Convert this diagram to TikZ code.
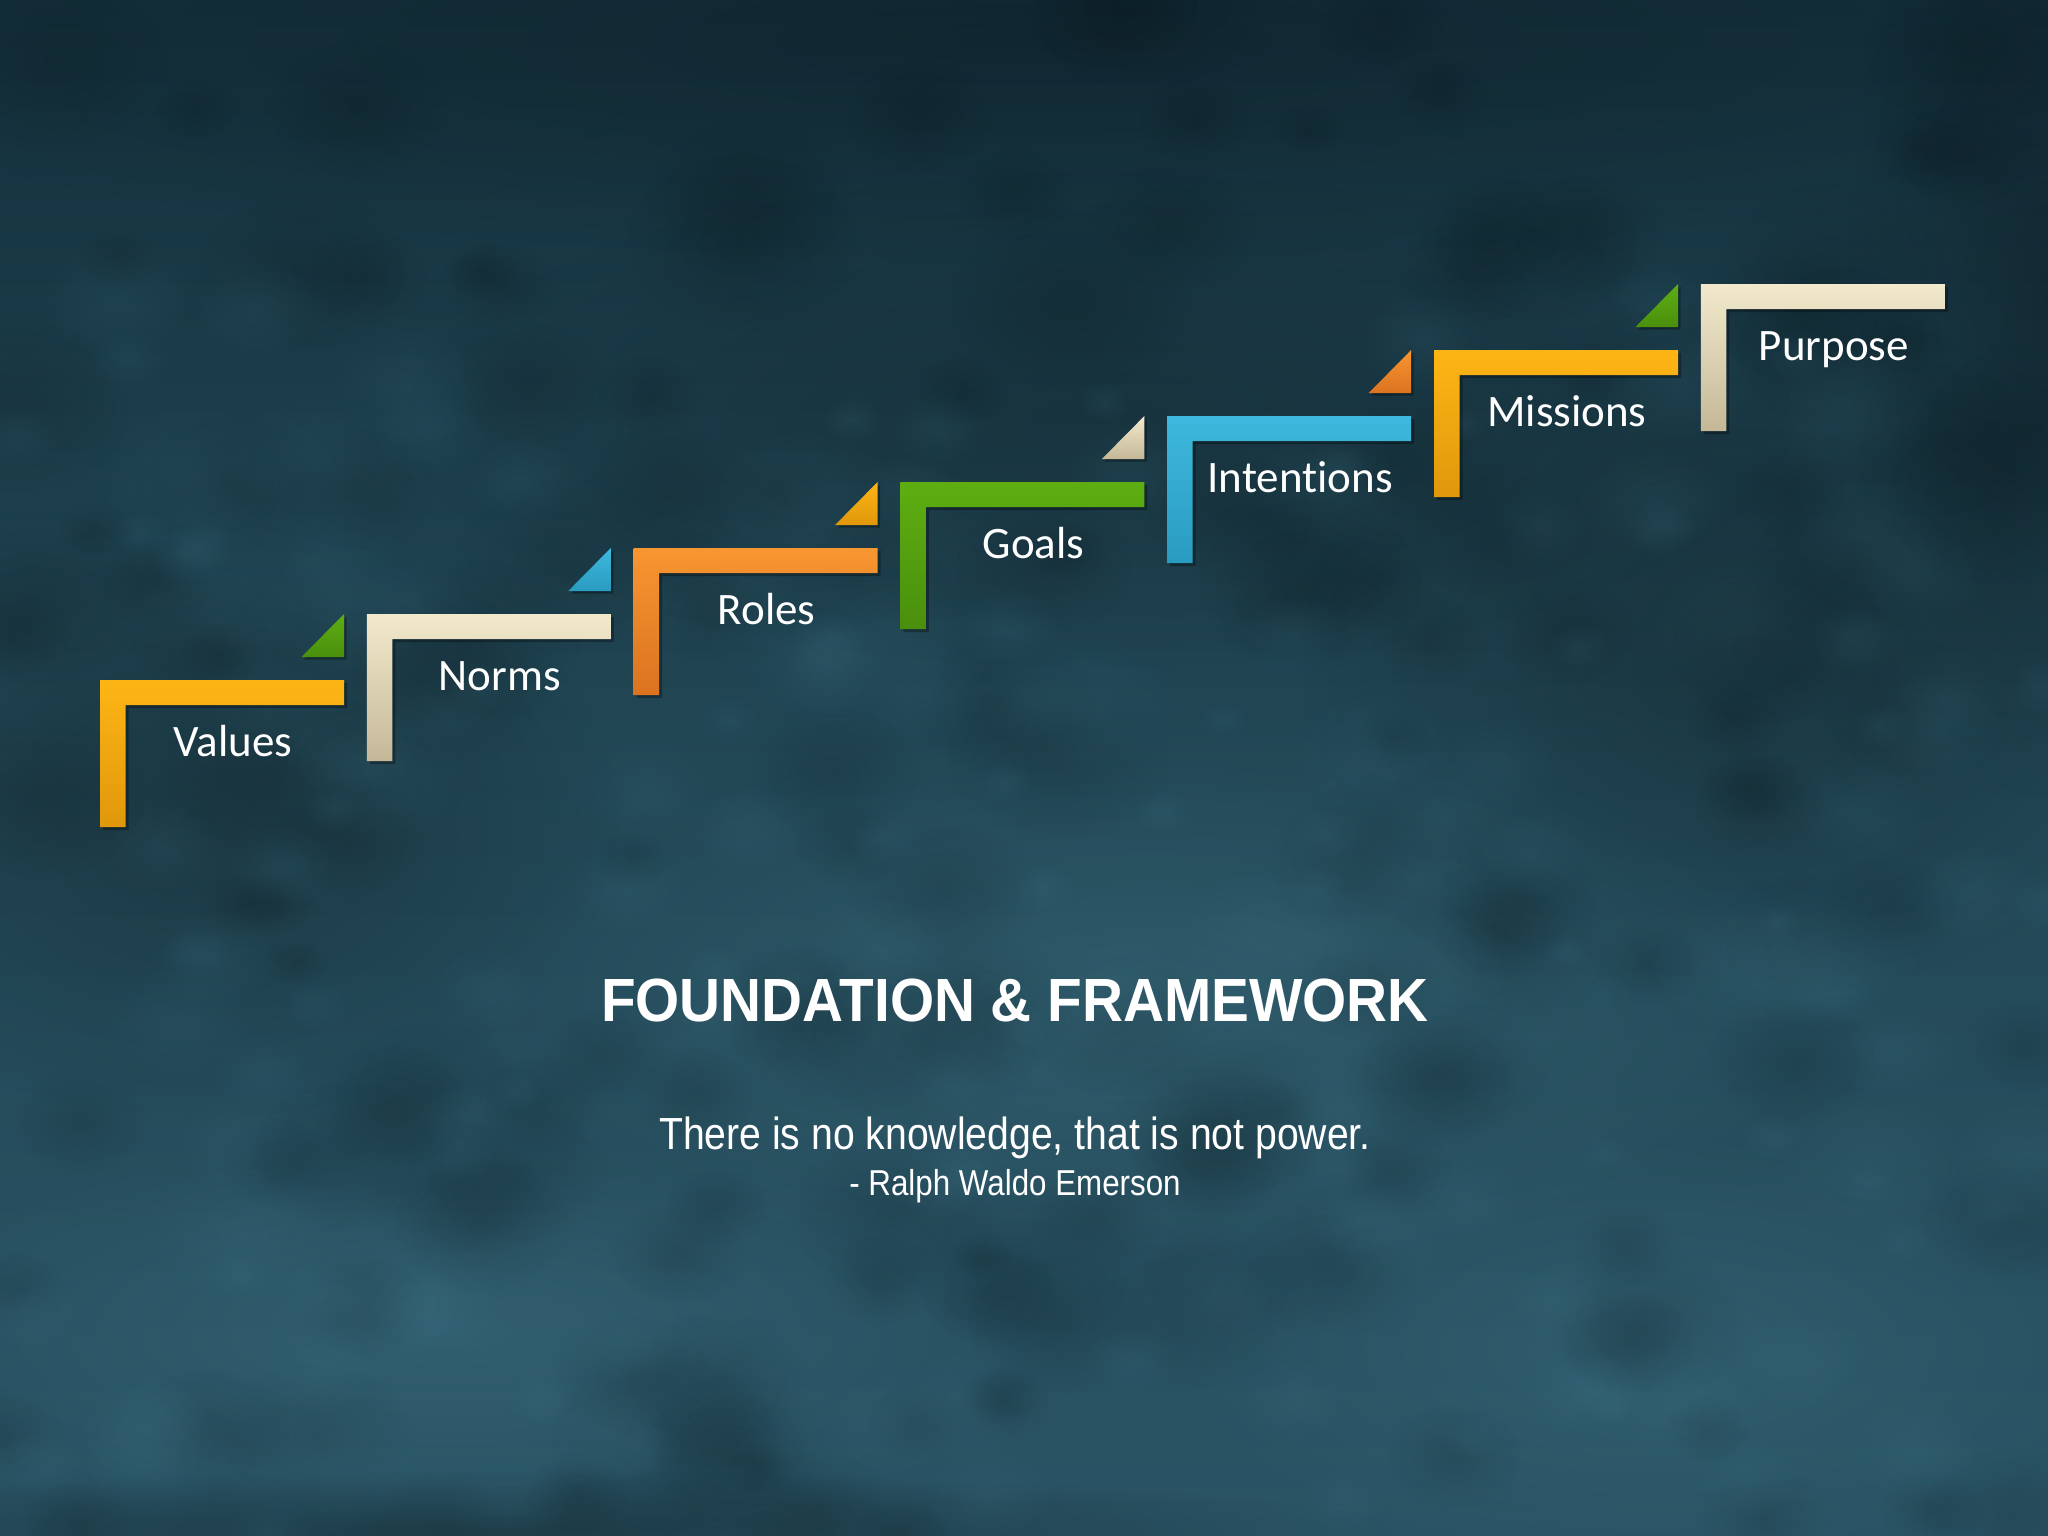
\documentclass[tikz,border=0pt]{standalone}
\usepackage{fontspec}
\setmainfont{Liberation Sans}
\newfontfamily\labelfont[Ligatures=NoCommon]{Carlito}
\newfontfamily\titlefont[FakeStretch=0.93]{Liberation Sans}
\newfontfamily\quotefont[FakeStretch=0.87]{Liberation Sans}
\usetikzlibrary{fadings}
\tikzfading[name=softblob, inner color=transparent!0, outer color=transparent!100]
\definecolor{bgtop}{HTML}{14303C}
\definecolor{bgmid}{HTML}{224755}
\definecolor{bgbot}{HTML}{2A5465}
\definecolor{bglight}{RGB}{72,128,148}
\definecolor{yelT}{HTML}{FDB515}\definecolor{yelB}{HTML}{E0980C}
\definecolor{crmT}{HTML}{F2E9CC}\definecolor{crmB}{HTML}{C4B898}
\definecolor{ornT}{HTML}{F89631}\definecolor{ornB}{HTML}{DB7320}
\definecolor{grnT}{HTML}{5EAE12}\definecolor{grnB}{HTML}{4A8F0D}
\definecolor{bluT}{HTML}{3EB8DE}\definecolor{bluB}{HTML}{2A9BC0}
\tikzset{
  stepL/.style n args={2}{top color=#1, bottom color=#2, draw=none},
  cornertri/.style n args={2}{top color=#1, bottom color=#2, draw=none},
  steplabel/.style={anchor=base, text=white, font=\labelfont\fontsize{45}{52}\selectfont, inner sep=0pt},
  shadowL/.style={fill=black, opacity=0.3},
  blob/.style={fill=#1, path fading=softblob}
}
\newcommand{\drawstep}[7]{%
  \coordinate (#7) at ({100+266.8*#1},{680-66*#1});
  \fill[shadowL] ([shift={(3,3)}]#7) -- ++(244,0) -- ++(0,25) -- ++(-218.5,0) -- ++(0,122) -- ++(-25.5,0) -- cycle;
  \shade[stepL={#2}{#3}] (#7) -- ++(244,0) -- ++(0,25) -- ++(-218.5,0) -- ++(0,122) -- ++(-25.5,0) -- cycle;
  \fill[shadowL] ([shift={(246.5,-63.5)}]#7) -- ++(0,43) -- ++(-42.5,0) -- cycle;
  \shade[cornertri={#4}{#5}] ([shift={(244,-66)}]#7) -- ++(0,43) -- ++(-42.5,0) -- cycle;
  \node[steplabel] (#7-label) at ([shift={(133,76)}]#7) {#6};
}
\begin{document}
\begin{tikzpicture}[x=1pt, y=-1pt]
\useasboundingbox (0,0) rectangle (2048,1536);
% background
\shade[top color=bgtop, bottom color=bgbot, middle color=bgmid] (0,0) rectangle (2048,1536);
\fill[blob=black, opacity=0.2] (1024,40) ellipse (1300 and 220);
\fill[blob=black, opacity=0.22] (200,820) ellipse (420 and 300);
\fill[blob=black, opacity=0.22] (1750,650) ellipse (450 and 350);
\fill[blob=black, opacity=0.15] (1100,420) ellipse (700 and 250);
\fill[blob=bglight, opacity=0.3] (1150,1000) ellipse (700 and 280);
\fill[blob=bglight, opacity=0.3] (450,1330) ellipse (600 and 200);
\fill[blob=bglight, opacity=0.25] (1650,1350) ellipse (500 and 220);
\fill[blob=black, opacity=0.3] (500,1530) ellipse (900 and 60);
\fill[blob=black, opacity=0.25] (2048,300) ellipse (200 and 500);
% mottled texture
\pgfmathsetseed{7}
\foreach \i in {1,...,160}{
  \pgfmathsetmacro{\bx}{random(0,2048)}
  \pgfmathsetmacro{\by}{random(0,1536)}
  \pgfmathsetmacro{\br}{random(25,90)}
  \fill[blob=black, opacity=0.12] (\bx,\by) ellipse ({\br*1.3} and \br);
}
\foreach \i in {1,...,160}{
  \pgfmathsetmacro{\bx}{random(0,2048)}
  \pgfmathsetmacro{\by}{random(300,1536)}
  \pgfmathsetmacro{\br}{random(20,80)}
  \fill[blob=bglight, opacity=0.12] (\bx,\by) ellipse ({\br*1.3} and \br);
}
% steps
\drawstep{0}{yelT}{yelB}{grnT}{grnB}{Values}{s0}
\drawstep{1}{crmT}{crmB}{bluT}{bluB}{Norms}{s1}
\drawstep{2}{ornT}{ornB}{yelT}{yelB}{Roles}{s2}
\drawstep{3}{grnT}{grnB}{crmT}{crmB}{Goals}{s3}
\drawstep{4}{bluT}{bluB}{ornT}{ornB}{Intentions}{s4}
\drawstep{5}{yelT}{yelB}{grnT}{grnB}{Missions}{s5}
% last step without corner triangle
\coordinate (s6) at ({100+266.8*6},{680-66*6});
\fill[shadowL] ([shift={(3,3)}]s6) -- ++(244,0) -- ++(0,25) -- ++(-218.5,0) -- ++(0,122) -- ++(-25.5,0) -- cycle;
\shade[stepL={crmT}{crmB}] (s6) -- ++(244,0) -- ++(0,25) -- ++(-218.5,0) -- ++(0,122) -- ++(-25.5,0) -- cycle;
\node[steplabel] (s6-label) at ([shift={(133,76)}]s6) {Purpose};
% texts
\node[anchor=base, text=white, inner sep=0pt, font=\titlefont\bfseries\fontsize{61}{70}\selectfont] (title) at (1015,1021) {FOUNDATION \& FRAMEWORK};
\node[anchor=base, text=white, inner sep=0pt, font=\quotefont\fontsize{45}{52}\selectfont] (quote) at (1015,1149) {There is no knowledge, that is not power.};
\node[anchor=base, text=white, inner sep=0pt, font=\quotefont\fontsize{36}{42}\selectfont] (author) at (1015,1195) {- Ralph Waldo Emerson};
\end{tikzpicture}
\end{document}
